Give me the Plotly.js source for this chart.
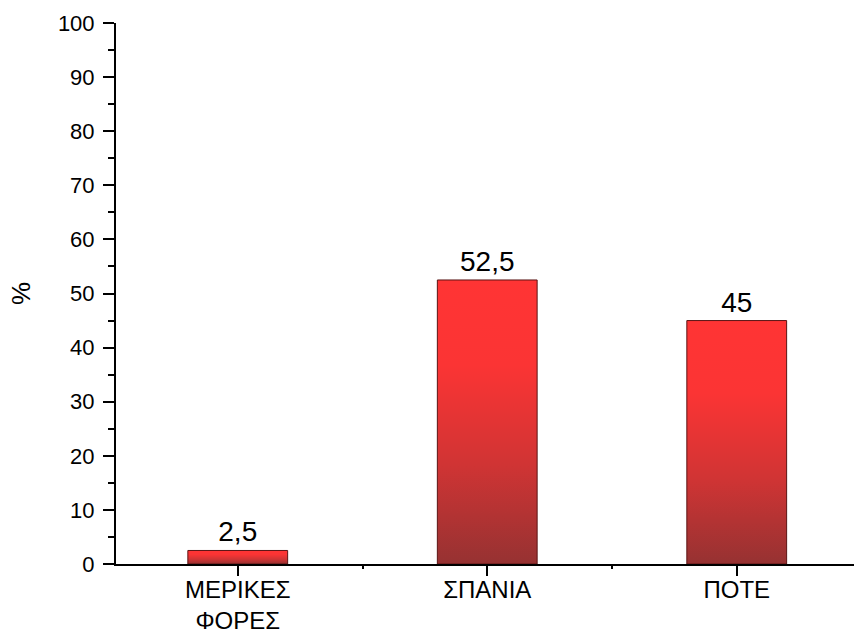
<!DOCTYPE html>
<html>
<head>
<meta charset="utf-8">
<script src="https://cdn.plot.ly/plotly-3.0.1.min.js"></script>
<style>
  html, body { margin: 0; padding: 0; background: #fff; }
  #chart { width: 854px; height: 634px; }
</style>
</head>
<body>
<div id="chart"></div>
<script>
// ---- data ----
const categories = ["ΜΕΡΙΚΕΣ<br>ΦΟΡΕΣ", "ΣΠΑΝΙΑ", "ΠΟΤΕ"];
const percentages = [2.5, 52.5, 45];
const yTitle = "%";

const FONT = "Liberation Sans, Arial, sans-serif";

const trace = {
  type: "bar",
  x: categories,
  y: percentages,
  width: 0.4,
  marker: { color: "#e53333", line: { color: "#5a1414", width: 1 } },
  texttemplate: "%{y}",
  textposition: "outside",
  cliponaxis: false,
  textfont: { family: FONT, size: 28, color: "#000" },
  hoverinfo: "skip",
  xaxis: "x",
  yaxis: "y"
};

const layout = {
  width: 854,
  height: 634,
  margin: { l: 116, r: 0, t: 23, b: 70 },
  paper_bgcolor: "#fff",
  plot_bgcolor: "#fff",
  separators: ",.",
  showlegend: false,
  font: { family: FONT, color: "#000" },
  xaxis: {
    type: "category",
    range: [-0.488, 2.47],
    showgrid: false,
    zeroline: false,
    showline: true,
    linecolor: "#000",
    linewidth: 2,
    ticks: "outside",
    ticklen: 10,
    tickwidth: 2,
    tickcolor: "#000",
    ticklabelstandoff: -7,
    tickfont: { family: FONT, size: 24, color: "#000" },
    fixedrange: true
  },
  xaxis2: {
    type: "linear",
    overlaying: "x",
    range: [-0.488, 2.47],
    tickvals: [0.5, 1.5],
    showticklabels: false,
    ticks: "outside",
    ticklen: 4,
    tickwidth: 2,
    tickcolor: "#000",
    showgrid: false,
    zeroline: false,
    showline: false,
    fixedrange: true
  },
  yaxis: {
    range: [0, 100],
    dtick: 10,
    showgrid: false,
    zeroline: false,
    showline: true,
    linecolor: "#000",
    linewidth: 2,
    ticks: "outside",
    ticklen: 11,
    tickwidth: 2,
    tickcolor: "#000",
    ticklabelstandoff: 4,
    minor: { dtick: 5, ticks: "outside", ticklen: 6, tickwidth: 2, tickcolor: "#000", showgrid: false },
    tickfont: { family: FONT, size: 22, color: "#000" },
    title: { text: yTitle, font: { family: FONT, size: 26, color: "#000" }, standoff: 20 },
    fixedrange: true
  }
};

// invisible helper trace so the overlay axis (minor x ticks) is rendered
const axisHolder = {
  type: "scatter", x: [0], y: [0], xaxis: "x2", yaxis: "y",
  mode: "markers", marker: { opacity: 0 }, hoverinfo: "skip", showlegend: false
};

Plotly.newPlot("chart", [trace, axisHolder], layout, { displayModeBar: false, staticPlot: true }).then(function (gd) {
  // vertical gradient fill for the bars
  const svg = gd.querySelector("svg.main-svg");
  const ns = "http://www.w3.org/2000/svg";
  let defs = svg.querySelector("defs");
  if (!defs) { defs = document.createElementNS(ns, "defs"); svg.insertBefore(defs, svg.firstChild); }
  const grad = document.createElementNS(ns, "linearGradient");
  grad.setAttribute("id", "barGrad");
  grad.setAttribute("x1", "0"); grad.setAttribute("y1", "0");
  grad.setAttribute("x2", "0"); grad.setAttribute("y2", "1");
  [["0", "#ff3434"], ["0.3", "#fb3434"], ["0.65", "#d03434"], ["1", "#963232"]].forEach(function (s) {
    const st = document.createElementNS(ns, "stop");
    st.setAttribute("offset", s[0]);
    st.setAttribute("stop-color", s[1]);
    grad.appendChild(st);
  });
  defs.appendChild(grad);
  gd.querySelectorAll(".trace.bars .point path").forEach(function (p) {
    p.style.fill = "url(#barGrad)";
  });
});
</script>
</body>
</html>
